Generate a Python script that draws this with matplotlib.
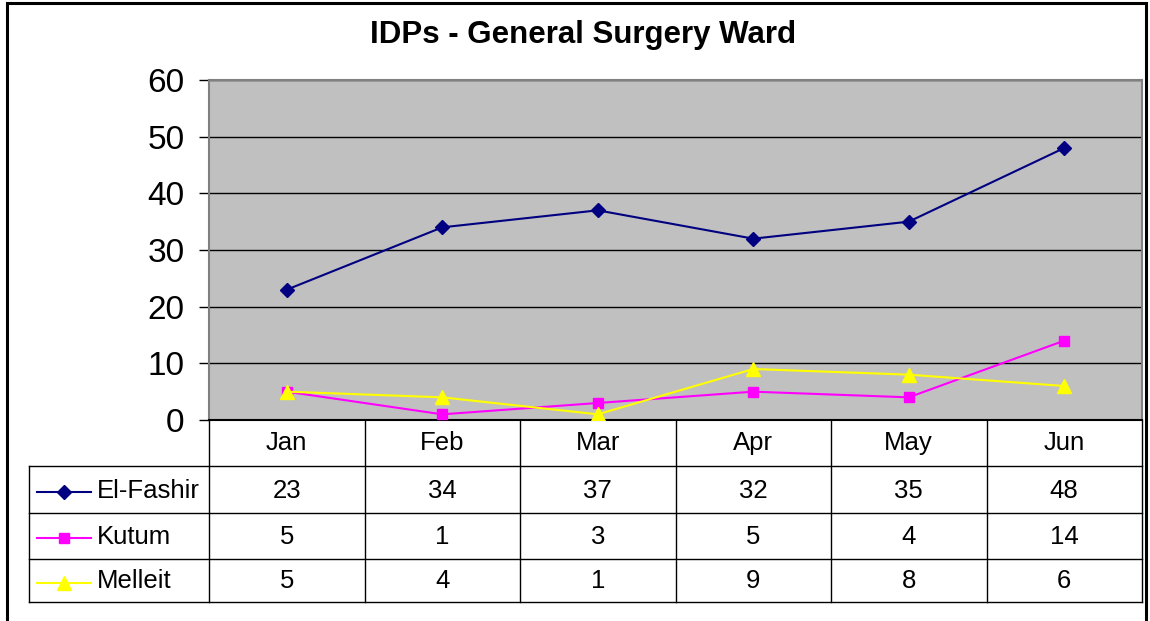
import matplotlib
matplotlib.use("Agg")
import matplotlib.pyplot as plt
from matplotlib.lines import Line2D
from matplotlib.patches import Rectangle

plt.rcParams['font.family'] = ['Liberation Sans', 'DejaVu Sans']

months = ["Jan", "Feb", "Mar", "Apr", "May", "Jun"]
series_names = ["El-Fashir", "Kutum", "Melleit"]
el_fashir = [23, 34, 37, 32, 35, 48]
kutum = [5, 1, 3, 5, 4, 14]
melleit = [5, 4, 1, 9, 8, 6]
yticks = [0, 10, 20, 30, 40, 50, 60]
title = "IDPs - General Surgery Ward"

colors = ["#000080", "#FF00FF", "#FFFF00"]
markers = ["D", "s", "^"]
msizes = [7, 7.5, 10]
values = [el_fashir, kutum, melleit]

W, H = 1150, 621
fig = plt.figure(figsize=(W / 100, H / 100), dpi=100)

def fx(px):
    return px / W

def fy(py):
    return 1 - py / H

# outer frame
fig.add_artist(Rectangle((fx(7), fy(625)), fx(1146) - fx(7), fy(3) - fy(625),
                         transform=fig.transFigure, fill=False, lw=2.2, ec="black"))

L, R, T, B = 209, 1142, 80, 420
ax = fig.add_axes([fx(L), fy(B), fx(R) - fx(L), fy(T) - fy(B)])
ax.set_facecolor("#C0C0C0")
x = list(range(len(months)))
for vals, c, m, ms in zip(values, colors, markers, msizes):
    ax.plot(x, vals, color=c, marker=m, markersize=ms, lw=1.5, zorder=3)
ax.set_xlim(-0.5, len(months) - 0.5)
ax.set_ylim(0, 60)
ax.set_yticks(yticks)
ax.set_yticklabels([str(v) for v in yticks], fontsize=24)
ax.tick_params(axis="y", length=7.2, width=1, pad=10.5, color="black")
ax.set_xticks([])
ax.grid(axis="y", color="black", lw=1)
ax.set_axisbelow(True)
for s in ["top", "right"]:
    ax.spines[s].set_color("#808080")
    ax.spines[s].set_linewidth(1.5)
ax.spines["left"].set_color("#808080")
ax.spines["left"].set_linewidth(1.5)
ax.spines["bottom"].set_color("black")
ax.spines["bottom"].set_linewidth(1.5)

fig.text(fx(583), fy(35), title, ha="center", va="center", fontsize=22.5, fontweight="bold")

# data table
row_edges = [420, 466, 513, 559, 602]
col_w = (R - L) / len(months)
col_edges = [L + i * col_w for i in range(len(months) + 1)]
tl = 29

def hline(y, x0, x1, lw=1.0):
    fig.add_artist(Line2D([fx(x0), fx(x1)], [fy(y), fy(y)], transform=fig.transFigure, color="black", lw=lw))

def vline(xp, y0, y1, lw=1.0):
    fig.add_artist(Line2D([fx(xp), fx(xp)], [fy(y0), fy(y1)], transform=fig.transFigure, color="black", lw=lw))

for xe in col_edges:
    vline(xe, row_edges[0], row_edges[-1])
vline(tl, row_edges[1], row_edges[-1])
for ye in row_edges[1:]:
    hline(ye, tl, R)

for i, mth in enumerate(months):
    cx = col_edges[i] + col_w / 2
    fig.text(fx(cx), fy((row_edges[0] + row_edges[1]) / 2), mth, ha="center", va="center", fontsize=18.5)
    for r, vals in enumerate(values):
        cy = (row_edges[r + 1] + row_edges[r + 2]) / 2 + 1
        fig.text(fx(cx), fy(cy), str(vals[i]), ha="center", va="center", fontsize=18.5)

for r, (name, c, m, ms) in enumerate(zip(series_names, colors, markers, msizes)):
    cy = (row_edges[r + 1] + row_edges[r + 2]) / 2 + 2
    fig.add_artist(Line2D([fx(37), fx(91)], [fy(cy), fy(cy)], transform=fig.transFigure, color=c, lw=1.5))
    fig.add_artist(Line2D([fx(64)], [fy(cy)], transform=fig.transFigure, color=c, marker=m, markersize=ms, lw=0))
    fig.text(fx(97), fy(cy - 1), name, ha="left", va="center", fontsize=18.5)

fig.savefig("out.png", dpi=100)
